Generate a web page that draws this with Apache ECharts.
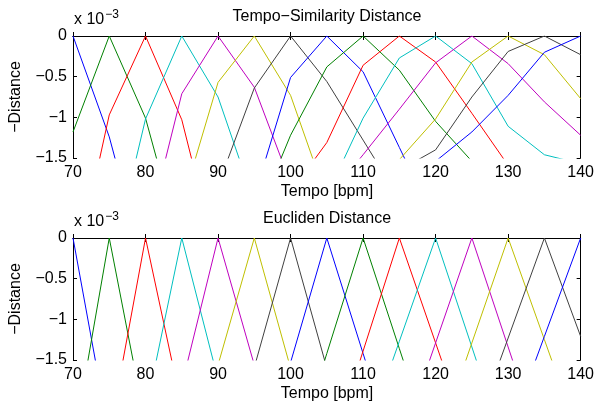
<!DOCTYPE html>
<html>
<head>
<meta charset="utf-8">
<script src="https://cdn.jsdelivr.net/npm/echarts@6/dist/echarts.min.js"></script>
<style>
  html, body { margin: 0; padding: 0; background: #fff; }
  #chart { width: 597px; height: 409px; }
</style>
</head>
<body>
<div id="chart"></div>
<script>
// tempo grid (bpm), values are -distance in units of 1e-3
const tempos = [70, 75, 80, 85, 90, 95, 100, 105, 110, 115, 120, 125, 130, 135, 140]
const colors = ['#0000ff', '#008000', '#ff0000', '#00bfbf', '#bf00bf', '#bfbf00', '#404040']

// Tempo-Similarity Distance, one curve per peak tempo
const simCurves = [
  [0, -1.24, -2.9, null, null, null, null, null, null, null, null, null, null, null, null],
  [-1.18, 0, -1.01, -2.64, null, null, null, null, null, null, null, null, null, null, null],
  [-3.0, -0.97, 0, -1.03, -2.8, null, null, null, null, null, null, null, null, null, null],
  [null, -2.9, -1.02, 0, -0.75, -2.05, null, null, null, null, null, null, null, null, null],
  [null, null, -2.5, -0.71, 0, -0.63, -1.81, null, null, null, null, null, null, null, null],
  [null, null, null, -2.07, -0.57, 0, -0.73, -2.0, null, null, null, null, null, null, null],
  [null, null, null, null, -1.84, -0.64, 0, -0.56, -1.28, -2.0, null, null, null, null, null],
  [null, null, null, null, null, -1.97, -0.51, 0, -0.44, -1.37, -2.3, null, null, null, null],
  [null, null, null, null, null, -2.3, -1.22, -0.38, 0, -0.42, -1.05, -1.54, null, null, null],
  [null, null, null, null, null, null, -1.92, -1.31, -0.36, 0, -0.32, -0.95, -1.59, null, null],
  [null, null, null, null, null, null, null, -1.96, -1.01, -0.27, 0, -0.34, -1.11, -1.46, -1.57],
  [null, null, null, null, null, null, null, -2.0, -1.46, -0.9, -0.33, 0, -0.34, -0.81, -1.22],
  [null, null, null, null, null, null, null, null, -2.0, -1.52, -1.02, -0.32, 0, -0.23, -0.77],
  [null, null, null, null, null, null, null, null, null, -1.65, -1.4, -0.75, -0.19, 0, -0.23],
  [null, null, null, null, null, null, null, null, null, null, -1.54, -1.18, -0.73, -0.2, 0]
]

// Eucliden Distance
const eucCurves = [
  [0, -2.44, null, null, null, null, null, null, null, null, null, null, null, null, null],
  [-2.56, 0, -2.29, null, null, null, null, null, null, null, null, null, null, null, null],
  [null, -2.42, 0, -2.08, null, null, null, null, null, null, null, null, null, null, null],
  [null, null, -2.14, 0, -1.74, null, null, null, null, null, null, null, null, null, null],
  [null, null, null, -1.81, 0, -1.56, null, null, null, null, null, null, null, null, null],
  [null, null, null, null, -1.56, 0, -1.6, null, null, null, null, null, null, null, null],
  [null, null, null, null, null, -1.59, 0, -1.6, null, null, null, null, null, null, null],
  [null, null, null, null, null, null, -1.53, 0, -1.42, -2.84, null, null, null, null, null],
  [null, null, null, null, null, null, -2.84, -1.42, 0, -1.36, -2.72, null, null, null, null],
  [null, null, null, null, null, null, null, -2.78, -1.39, 0, -1.29, -2.58, null, null, null],
  [null, null, null, null, null, null, null, null, -2.54, -1.27, 0, -1.34, -2.68, null, null],
  [null, null, null, null, null, null, null, null, null, -2.58, -1.29, 0, -1.34, -2.68, null],
  [null, null, null, null, null, null, null, null, null, null, -2.58, -1.29, 0, -1.25, -2.5],
  [null, null, null, null, null, null, null, null, null, null, null, -2.46, -1.23, 0, -1.21],
  [null, null, null, null, null, null, null, null, null, null, null, null, -2.42, -1.21, 0]
]

const titles = ['Tempo\u2212Similarity Distance', 'Eucliden Distance']

const grids = [
  { left: 73, right: 16, top: 36, height: 122 },
  { left: 73, right: 16, top: 238, height: 122 }
]

const fontFamily = 'Liberation Sans, Arial, sans-serif'
const minus = v => String(v).replace('-', '\u2212')

let xAxis = []
let yAxis = []
grids.forEach((g, gi) => {
  // bottom/left axes carry the labels, top/right ones only the inside ticks
  ;['bottom', 'top'].forEach(pos => {
    xAxis.push({
      type: 'value', gridIndex: gi, position: pos, min: 70, max: 140, interval: 10,
      axisLine: { lineStyle: { color: '#000', width: 1 } },
      axisTick: { inside: true, length: 4, lineStyle: { color: '#000' } },
      axisLabel: { show: pos === 'bottom', color: '#000', fontSize: 16, fontFamily: fontFamily, margin: 7 },
      splitLine: { show: false }
    })
  })
  ;['left', 'right'].forEach(pos => {
    yAxis.push({
      type: 'value', gridIndex: gi, position: pos, min: -1.5, max: 0, interval: 0.5,
      axisLine: { show: true, lineStyle: { color: '#000', width: 1 } },
      axisTick: { show: true, inside: true, length: 4, lineStyle: { color: '#000' } },
      axisLabel: { show: pos === 'left', color: '#000', fontSize: 16, fontFamily: fontFamily, margin: 6, formatter: minus },
      splitLine: { show: false }
    })
  })
})

let series = []
;[simCurves, eucCurves].forEach((curves, gi) => {
  curves.forEach((vals, i) => {
    series.push({
      type: 'line',
      xAxisIndex: gi * 2,
      yAxisIndex: gi * 2,
      data: tempos.map((t, k) => [t, vals[k] === null ? '-' : vals[k]]),
      showSymbol: false,
      clip: true,
      lineStyle: { color: colors[i % colors.length], width: 1 },
      z: 1
    })
  })
})

function label(text, x, y, extra) {
  return Object.assign({
    type: 'text', x: x, y: y,
    style: { text: text, fill: '#000', font: '16px ' + fontFamily, textAlign: 'center', textVerticalAlign: 'middle' }
  }, extra || {})
}

const texts = []
grids.forEach((g, gi) => {
  const cx = 73 + (597 - 73 - 16) / 2
  texts.push(label(titles[gi], cx, g.top - 19))
  texts.push(label('Tempo [bpm]', cx, g.top + g.height + 34))
  texts.push(label('\u2212Distance', 16, g.top + g.height / 2, { rotation: Math.PI / 2 }))
  texts.push({
    type: 'text', x: 74, y: g.top - 16,
    style: {
      text: '{a|x 10}{b|\u22123}',
      textVerticalAlign: 'middle',
      rich: {
        a: { fontSize: 16, fontFamily: fontFamily, fill: '#000' },
        b: { fontSize: 12, fontFamily: fontFamily, fill: '#000', verticalAlign: 'top', padding: [0, 0, 10, 1] }
      }
    }
  })
})

const chart = echarts.init(document.getElementById('chart'))
chart.setOption({
  animation: false,
  backgroundColor: '#fff',
  grid: grids,
  xAxis: xAxis,
  yAxis: yAxis,
  series: series,
  graphic: texts
})
</script>
</body>
</html>
